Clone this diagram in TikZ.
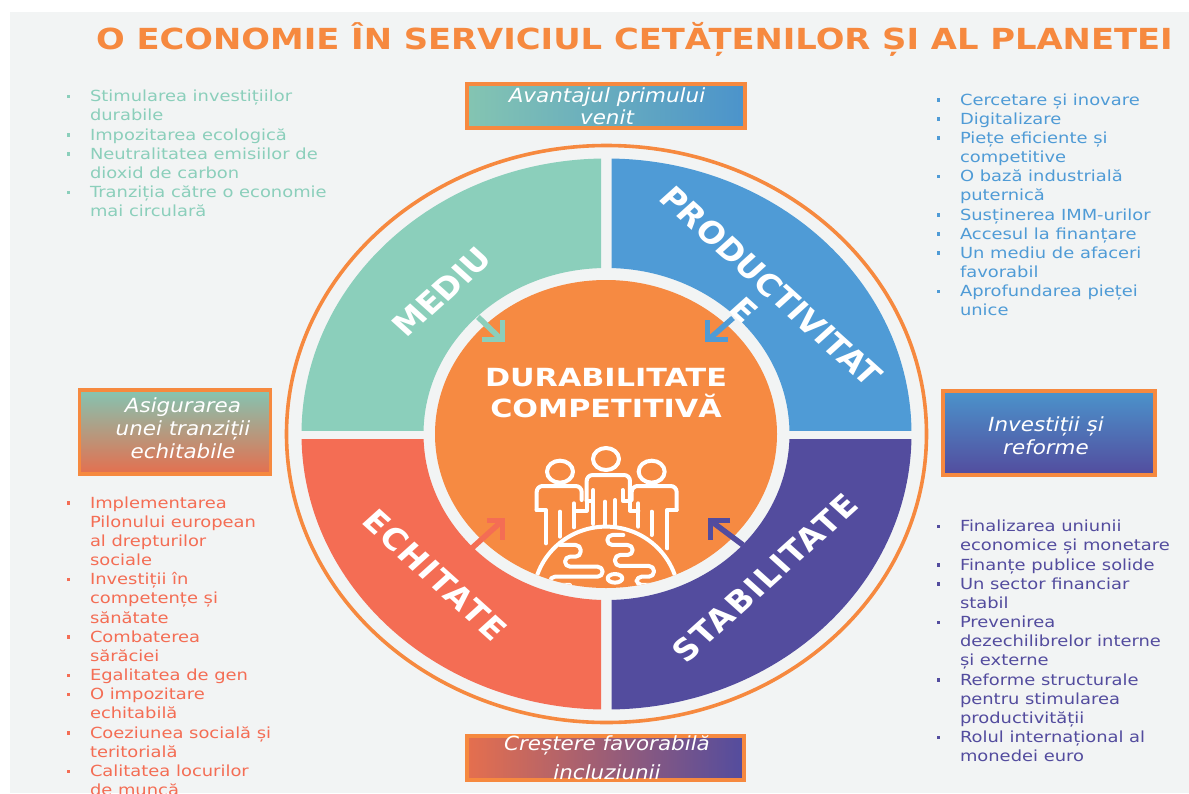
\documentclass[tikz,border=0pt]{standalone}
\usepackage{fontspec}
\setmainfont{DejaVu Sans}
\newfontfamily\listfont[FakeStretch=1.17]{DejaVu Sans}
\newfontfamily\boxfont[FakeStretch=1.1]{DejaVu Sans Oblique}
\newfontfamily\titlefont[FakeStretch=1.165]{DejaVu Sans Bold}
\newfontfamily\corefont[FakeStretch=1.21]{DejaVu Sans Bold}
\newfontfamily\segfont{DejaVu Sans Bold}
\newfontfamily\segwide[LetterSpace=5]{DejaVu Sans Bold}
\usetikzlibrary{shapes.geometric,calc}
\definecolor{pagebg}{HTML}{F2F4F4}
\definecolor{ringc}{HTML}{F6893F}
\definecolor{coremain}{HTML}{F68A42}
\definecolor{cgreen}{HTML}{8BCFBB}
\definecolor{cblue}{HTML}{4F9BD6}
\definecolor{cpurple}{HTML}{534C9E}
\definecolor{cred}{HTML}{F46D54}
\definecolor{gredb}{HTML}{E56F4E}
\newcommand{\bul}{\makebox[23pt][l]{\rule[3.5pt]{3.4pt}{3.4pt}}}
\newcommand{\hng}{\hspace*{23pt}}
\tikzset{
  lst/.style={anchor=north west,inner sep=0pt,outer sep=0pt,align=left,font=\listfont\fontsize{15.3}{19.17}\selectfont},
  gbox/.style={draw=ringc,line width=3.2pt,minimum width=#1,inner sep=0pt,outer sep=0pt},
  boxtxt/.style={text=white,inner sep=0pt,anchor=base,font=\boxfont\fontsize{19.5}{22}\selectfont},
  seglabel/.style={text=white,inner sep=0pt,font=\segfont\fontsize{30}{34}\selectfont,align=center},
  seglabelw/.style={text=white,inner sep=0pt,font=\segwide\fontsize{30}{34}\selectfont,align=center},
  arr/.style={line width=5.5pt,miter limit=10},
  ico/.style={draw=white,line width=4pt,line join=round,line cap=round}
}
\begin{document}
\begin{tikzpicture}[x=1pt,y=-1pt]
\useasboundingbox (0,0) rectangle (1189,793);
\clip (0,0) rectangle (1189,793);
\fill[pagebg] (10,12) rectangle (1189,793);
\coordinate (c) at (606.5,434);
% ring
\draw[ringc,line width=3.6pt] (c) ellipse [x radius=320pt,y radius=288.5pt];
% segments
\begin{scope}\clip (280,130) rectangle (601,430);
\fill[cgreen,even odd rule] (c) ellipse [x radius=305pt,y radius=275.5pt] (c) ellipse [x radius=183pt,y radius=166pt];
\end{scope}
\begin{scope}\clip (611.5,130) rectangle (930,430);
\fill[cblue,even odd rule] (c) ellipse [x radius=305pt,y radius=275.5pt] (c) ellipse [x radius=183pt,y radius=166pt];
\end{scope}
\begin{scope}\clip (280,439) rectangle (601,730);
\fill[cred,even odd rule] (c) ellipse [x radius=305pt,y radius=275.5pt] (c) ellipse [x radius=183pt,y radius=166pt];
\end{scope}
\begin{scope}\clip (611.5,439) rectangle (930,730);
\fill[cpurple,even odd rule] (c) ellipse [x radius=305pt,y radius=275.5pt] (c) ellipse [x radius=183pt,y radius=166pt];
\end{scope}
% core
\node[ellipse,fill=coremain,minimum width=342pt,minimum height=308pt,inner sep=0pt,outer sep=0pt] (core) at (606,434) {};
\node[text=white,inner sep=0pt,align=center,font=\corefont\fontsize{25}{31}\selectfont] (coretxt) at (606,393) {DURABILITATE\\COMPETITIVĂ};
% arrows
\draw[cgreen,arr] (478,317) -- (502,340);
\draw[cgreen,arr] (482,339.5) -- (502.5,339.5) -- (502.5,320);
\draw[cblue,arr] (733,318) -- (708,340);
\draw[cblue,arr] (728,339.5) -- (707.5,339.5) -- (707.5,320);
\draw[cred,arr] (462,557) -- (502,521);
\draw[cred,arr] (487,520.5) -- (502.5,520.5) -- (502.5,540);
\draw[cpurple,arr] (743,545) -- (711,521);
\draw[cpurple,arr] (730,520.5) -- (710.5,520.5) -- (710.5,540);
% segment labels
\node[seglabel,xscale=1.11,rotate=45] (lmediu) at (442,292) {MEDIU};
\node[seglabel,xscale=1.11,rotate=-45,anchor=center] (lprod) at (758,298) {PRODUCTIVITAT\\E};
\node[seglabelw,xscale=1.11,rotate=-45] (lechit) at (435,575) {ECHITATE};
\node[seglabelw,xscale=1.11,rotate=45] (lstab) at (765,578) {STABILITATE};
% icon
\begin{scope}
\clip (606,434) ellipse [x radius=171pt,y radius=154pt];
\begin{scope}[shift={(520,440)},x=0.3333pt,y=-0.3333pt]
\draw[ico] (258,57) ellipse [x radius=13pt,y radius=11pt];
\draw[ico] (120,95) ellipse [x radius=13pt,y radius=11pt];
\draw[ico] (395,95) ellipse [x radius=13pt,y radius=11pt];
\draw[ico,rounded corners=6pt] (200,182) -- (200,105) -- (330,105) -- (330,182);
\draw[ico] (200,182) -- (220,182) -- (220,150);
\draw[ico] (330,182) -- (308,182) -- (308,150);
\draw[ico] (220,182) -- (220,252);
\draw[ico] (285,180) -- (285,255);
\draw[ico] (255,185) -- (255,255);
\draw[ico,rounded corners=6pt] (185,180) -- (185,138) -- (50,138) -- (50,210);
\draw[ico] (50,210) -- (78,210) -- (78,310);
\draw[ico] (120,215) -- (120,290);
\draw[ico] (162,190) -- (162,262);
\draw[ico] (162,212) -- (200,212) -- (200,182);
\draw[ico,rounded corners=6pt] (335,180) -- (335,138) -- (470,138) -- (470,210);
\draw[ico] (470,210) -- (442,210) -- (442,325);
\draw[ico] (395,215) -- (395,285);
\draw[ico] (355,190) -- (355,260);
\draw[ico] (355,212) -- (330,212) -- (330,182);
% globe
\draw[ico] (258,475) ellipse [x radius=72.7pt,y radius=71.7pt];
\draw[ico,rounded corners=5pt] (120,315) -- (182,315) -- (182,350) -- (135,350) -- (135,380) -- (248,380) -- (248,410) -- (90,410) -- (90,435) -- (150,435);
\draw[ico,rounded corners=5pt] (310,285) -- (262,285) -- (262,315) -- (338,315) -- (338,345) -- (285,345) -- (285,378) -- (402,378) -- (402,410) -- (350,410) -- (350,435) -- (410,435);
\draw[ico] (285,415) ellipse [x radius=7.3pt,y radius=4.3pt];
\end{scope}
\end{scope}
% gradient boxes
\node[gbox=278pt,minimum height=44pt,shade,left color=cgreen!95!black,right color=cblue!95!black] (btop) at (606,106) {};
\node[gbox=191pt,minimum height=84pt,shade,top color=cgreen!95!black,bottom color=gredb] (bleft) at (175,432) {};
\node[gbox=212pt,minimum height=84pt,shade,top color=cblue!95!black,bottom color=cpurple] (bright) at (1049,433) {};
\node[gbox=277pt,minimum height=44pt,shade,left color=gredb,right color=cpurple] (bbot) at (605.5,758) {};
% box texts
\node[boxtxt,align=center] (ttop) at (607,102) {Avantajul primului};
\node[boxtxt] (ttop2) at (607,124) {venit};
\node[boxtxt] (tl1) at (183,412) {Asigurarea};
\node[boxtxt] (tl2) at (183,435) {unei tranziții};
\node[boxtxt] (tl3) at (183,458) {echitabile};
\node[boxtxt] (tr1) at (1046,431) {Investiții și};
\node[boxtxt] (tr2) at (1046,454) {reforme};
\begin{scope}
\clip (440,720) rectangle (780,781.5);
\node[boxtxt] (tb1) at (607,750) {Creștere favorabilă};
\node[boxtxt] (tb2) at (607,779) {incluziunii};
\end{scope}
% title
\node[text=ringc,anchor=base,inner sep=0pt,font=\titlefont\fontsize{29}{34}\selectfont] (title) at (634.5,49) {O ECONOMIE ÎN SERVICIUL CETĂȚENILOR ȘI AL PLANETEI};
% lists
\node[lst,text=cgreen] (lg) at (67,88.3) {\strut\bul Stimularea investițiilor\\\hng durabile\\\bul Impozitarea ecologică\\\bul Neutralitatea emisiilor de\\\hng dioxid de carbon\\\bul Tranziția către o economie\\\hng mai circulară};
\node[lst,text=cblue] (lb) at (937,91.6) {\strut\bul Cercetare și inovare\\\bul Digitalizare\\\bul Piețe eficiente și\\\hng competitive\\\bul O bază industrială\\\hng puternică\\\bul Susținerea IMM-urilor\\\bul Accesul la finanțare\\\bul Un mediu de afaceri\\\hng favorabil\\\bul Aprofundarea pieței\\\hng unice};
\node[lst,text=cred] (lr) at (67,494.6) {\strut\bul Implementarea\\\hng Pilonului european\\\hng al drepturilor\\\hng sociale\\\bul Investiții în\\\hng competențe și\\\hng sănătate\\\bul Combaterea\\\hng sărăciei\\\bul Egalitatea de gen\\\bul O impozitare\\\hng echitabilă\\\bul Coeziunea socială și\\\hng teritorială\\\bul Calitatea locurilor\\\hng de muncă};
\node[lst,text=cpurple] (lp) at (937,518.3) {\strut\bul Finalizarea uniunii\\\hng economice și monetare\\\bul Finanțe publice solide\\\bul Un sector financiar\\\hng stabil\\\bul Prevenirea\\\hng dezechilibrelor interne\\\hng și externe\\\bul Reforme structurale\\\hng pentru stimularea\\\hng productivității\\\bul Rolul internațional al\\\hng monedei euro};
\end{tikzpicture}
\end{document}
